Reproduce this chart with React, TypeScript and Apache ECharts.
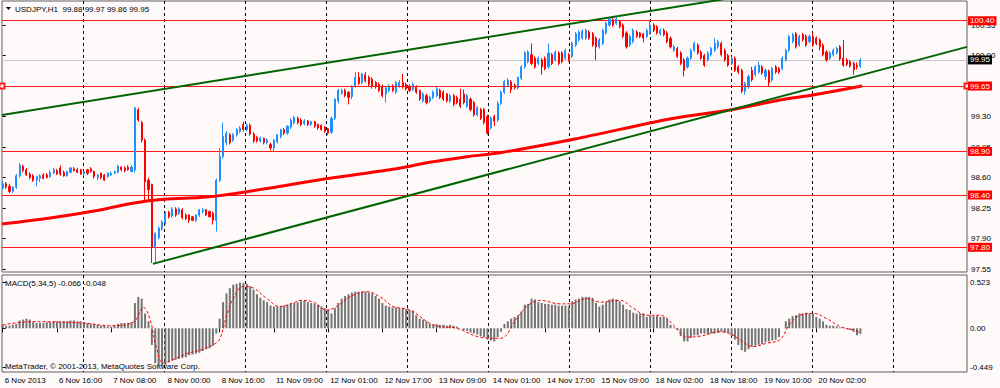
import { useEffect, useRef } from 'react';
import * as echarts from 'echarts';

const SYMBOL_TITLE = 'USDJPY,H1  99.88 99.97 99.86 99.95';
const MACD_TITLE = 'MACD(5,34,5) -0.066 -0.048';
const COPYRIGHT = 'MetaTrader, \u00A9 2001-2013, MetaQuotes Software Corp.';

const X_LABELS = [
  '6 Nov 2013', '6 Nov 16:00', '7 Nov 08:00', '8 Nov 00:00', '8 Nov 16:00',
  '11 Nov 09:00', '12 Nov 01:00', '12 Nov 17:00', '13 Nov 09:00', '14 Nov 01:00',
  '14 Nov 17:00', '15 Nov 09:00', '18 Nov 02:00', '18 Nov 18:00', '19 Nov 10:00', '20 Nov 02:00',
];
const X_LABEL_BARS = [0, 16, 32, 48, 64, 80, 96, 112, 128, 144, 160, 176, 192, 208, 224, 240];
const Y_TICKS = [97.55, 97.9, 98.25, 98.6, 98.95, 99.3, 99.65, 100.0, 100.35];
const MACD_TICKS = [0.523, 0, -0.449];
const LEVELS = [100.4, 98.9, 98.4, 97.8];
const SELECTED_LEVEL = 99.65;
const BID = 99.95;

// [open, close, low, high] per H1 bar
const CANDLES: number[][] = [
  [98.48,98.53,98.46,98.56],[98.53,98.49,98.47,98.55],[98.50,98.44,98.42,98.53],[98.44,98.49,98.42,98.50],
  [98.49,98.62,98.47,98.64],[98.62,98.74,98.60,98.77],[98.73,98.68,98.66,98.75],[98.69,98.63,98.62,98.71],
  [98.64,98.60,98.58,98.66],[98.62,98.57,98.55,98.64],[98.57,98.61,98.50,98.62],[98.59,98.62,98.55,98.64],
  [98.63,98.59,98.58,98.65],[98.63,98.60,98.59,98.65],[98.61,98.66,98.60,98.68],[98.65,98.69,98.64,98.71],
  [98.68,98.64,98.63,98.70],[98.71,98.64,98.62,98.74],[98.66,98.62,98.61,98.68],[98.62,98.67,98.61,98.68],
  [98.66,98.71,98.65,98.72],[98.70,98.68,98.67,98.72],[98.69,98.66,98.65,98.71],[98.69,98.64,98.63,98.70],
  [98.64,98.67,98.62,98.68],[98.69,98.65,98.63,98.70],[98.70,98.67,98.66,98.72],[98.67,98.61,98.59,98.68],
  [98.60,98.63,98.57,98.64],[98.65,98.60,98.58,98.66],[98.63,98.57,98.56,98.64],[98.61,98.65,98.60,98.66],
  [98.63,98.65,98.62,98.67],[98.65,98.67,98.64,98.68],[98.66,98.73,98.65,98.75],[98.72,98.69,98.67,98.73],
  [98.71,98.68,98.66,98.73],[98.72,98.69,98.68,98.74],[98.67,98.72,98.66,98.74],
  [98.69,99.40,98.66,99.41],[99.38,99.26,99.24,99.40],[99.23,99.03,99.00,99.25],[99.03,98.55,98.34,99.05],
  [98.57,98.46,98.34,98.60],[98.52,97.80,97.62,98.53],[97.80,97.96,97.62,97.97],[97.91,98.02,97.89,98.04],
  [98.01,98.09,97.99,98.11],[98.08,98.19,98.06,98.21],[98.20,98.15,98.13,98.22],[98.16,98.24,98.14,98.26],
  [98.24,98.17,98.15,98.26],[98.19,98.24,98.17,98.26],[98.23,98.14,98.12,98.25],[98.17,98.13,98.11,98.19],
  [98.17,98.11,98.08,98.18],[98.15,98.11,98.10,98.16],[98.11,98.17,98.09,98.18],[98.17,98.23,98.15,98.24],
  [98.21,98.23,98.19,98.25],[98.23,98.17,98.16,98.24],[98.21,98.15,98.14,98.22],[98.19,98.11,98.06,98.21],
  [98.11,98.57,97.98,98.59],[98.57,98.84,98.55,98.94],[98.84,99.07,98.82,99.23],[99.00,99.11,98.97,99.13],
  [99.09,99.00,98.98,99.11],[99.03,99.09,99.01,99.11],[99.09,99.15,99.07,99.17],[99.13,99.17,99.11,99.19],
  [99.21,99.15,99.13,99.24],[99.15,99.20,99.13,99.22],[99.20,99.10,99.08,99.22],[99.10,99.02,99.00,99.12],
  [99.06,99.02,99.00,99.08],[99.02,99.05,99.00,99.07],[99.05,99.00,98.98,99.06],[99.00,99.03,98.98,99.05],
  [98.98,98.94,98.91,99.00],[98.94,99.03,98.90,99.04],
  [99.01,99.09,98.99,99.10],[99.07,99.15,99.05,99.16],[99.15,99.11,99.09,99.17],[99.11,99.19,99.09,99.20],
  [99.18,99.26,99.16,99.28],[99.23,99.29,99.21,99.31],[99.28,99.23,99.21,99.30],[99.26,99.21,99.19,99.28],
  [99.22,99.25,99.20,99.27],[99.25,99.21,99.19,99.26],[99.21,99.24,99.19,99.25],[99.24,99.19,99.17,99.25],
  [99.21,99.17,99.15,99.22],[99.20,99.15,99.14,99.21],[99.18,99.13,99.11,99.19],[99.16,99.11,99.09,99.17],
  [99.12,99.28,99.10,99.30],[99.28,99.50,99.26,99.51],[99.48,99.60,99.45,99.62],[99.57,99.60,99.55,99.62],
  [99.60,99.54,99.52,99.62],[99.58,99.52,99.44,99.59],[99.53,99.65,99.50,99.66],[99.65,99.75,99.63,99.81],
  [99.75,99.68,99.66,99.81],[99.69,99.79,99.67,99.80],[99.78,99.71,99.69,99.81],[99.75,99.67,99.65,99.77],
  [99.73,99.65,99.62,99.75],[99.69,99.64,99.62,99.71],[99.67,99.60,99.58,99.69],[99.65,99.54,99.52,99.67],
  [99.56,99.63,99.46,99.65],[99.60,99.65,99.58,99.67],[99.65,99.60,99.58,99.67],[99.58,99.69,99.56,99.71],
  [99.65,99.69,99.63,99.72],[99.69,99.64,99.62,99.79],[99.67,99.62,99.60,99.69],[99.65,99.60,99.58,99.67],
  [99.61,99.67,99.59,99.69],[99.64,99.58,99.56,99.66],[99.60,99.50,99.48,99.61],[99.48,99.56,99.46,99.58],
  [99.54,99.46,99.44,99.56],[99.48,99.52,99.46,99.54],[99.52,99.58,99.50,99.60],[99.54,99.62,99.52,99.64],
  [99.60,99.52,99.50,99.62],[99.58,99.50,99.48,99.60],[99.56,99.48,99.46,99.57],[99.48,99.54,99.46,99.56],
  [99.54,99.44,99.42,99.56],[99.52,99.46,99.44,99.54],[99.50,99.42,99.40,99.62],[99.56,99.46,99.44,99.61],
  [99.42,99.54,99.40,99.56],[99.50,99.38,99.36,99.52],[99.46,99.32,99.30,99.48],[99.32,99.40,99.30,99.42],
  [99.38,99.28,99.26,99.40],[99.38,99.23,99.21,99.40],[99.30,99.11,99.09,99.32],[99.17,99.28,99.15,99.30],
  [99.30,99.25,99.19,99.32],
  [99.26,99.45,99.24,99.48],[99.45,99.58,99.43,99.60],[99.58,99.70,99.56,99.72],[99.66,99.72,99.64,99.74],
  [99.70,99.61,99.57,99.72],[99.66,99.63,99.61,99.68],[99.63,99.75,99.61,99.76],[99.74,99.87,99.72,99.89],
  [99.87,100.03,99.85,100.05],[99.93,100.04,99.91,100.06],[100.01,99.91,99.89,100.14],[99.97,99.87,99.85,99.99],
  [99.91,99.97,99.89,99.99],[99.95,99.87,99.78,99.97],[99.97,99.85,99.83,99.99],[99.87,100.03,99.85,100.14],
  [100.01,99.91,99.89,100.03],[99.95,100.04,99.93,100.06],[100.03,99.91,99.89,100.05],[100.03,99.93,99.91,100.05],
  [99.97,100.06,99.95,100.08],[100.01,99.95,99.93,100.03],[99.99,100.14,99.97,100.16],[100.12,100.25,100.10,100.27],
  [100.18,100.27,100.16,100.29],[100.20,100.28,100.18,100.30],[100.20,100.29,100.18,100.31],[100.27,100.20,100.18,100.29],
  [100.25,100.12,100.10,100.27],[100.20,100.10,99.95,100.22],[100.10,100.18,100.08,100.20],[100.14,100.29,100.12,100.31],
  [100.26,100.37,100.24,100.39],[100.35,100.42,100.33,100.44],[100.41,100.35,100.33,100.43],[100.37,100.42,100.35,100.44],
  [100.39,100.33,100.31,100.41],[100.35,100.22,100.20,100.37],[100.26,100.10,100.08,100.28],[100.12,100.22,100.10,100.24],
  [100.16,100.29,100.14,100.31],[100.27,100.22,100.20,100.29],[100.26,100.22,100.20,100.27],[100.25,100.20,100.15,100.26],
  [100.22,100.29,100.20,100.31],[100.26,100.35,100.24,100.41],[100.35,100.29,100.27,100.37],[100.33,100.26,100.24,100.35],
  [100.25,100.29,100.23,100.31],[100.29,100.24,100.22,100.31],[100.26,100.16,100.14,100.28],[100.20,100.10,100.08,100.22],
  [100.06,100.10,100.04,100.12],[100.08,99.99,99.97,100.10],[100.03,99.91,99.89,100.05],[99.95,99.83,99.76,99.97],
  [99.87,99.97,99.85,99.99],[99.97,100.06,99.95,100.08],[100.06,100.14,100.04,100.16],[100.12,100.03,100.01,100.14],
  [100.04,99.97,99.95,100.06],[100.00,99.89,99.87,100.02],[99.95,100.03,99.93,100.05],[100.01,100.08,99.99,100.10],
  [100.06,100.14,100.04,100.20],[100.10,100.16,100.08,100.18],[100.14,100.01,99.99,100.16],[100.06,99.95,99.93,100.08],
  [100.00,99.89,99.87,100.02],[99.91,99.97,99.89,99.99],[99.97,99.83,99.81,99.99],[99.87,99.81,99.79,99.89],
  [99.83,99.59,99.57,99.85],[99.59,99.68,99.55,99.70],[99.64,99.76,99.62,99.78],[99.83,99.72,99.70,99.87],
  [99.78,99.87,99.76,99.89],[99.81,99.89,99.79,99.93],[99.87,99.80,99.78,99.89],[99.76,99.83,99.72,99.85],
  [99.82,99.69,99.64,99.84],[99.72,99.85,99.70,99.87],[99.87,99.81,99.79,99.89],[99.85,99.81,99.79,99.87],
  [99.85,99.97,99.83,99.99],[99.95,100.06,99.93,100.08],[100.06,100.22,100.04,100.24],[100.16,100.24,100.14,100.26],
  [100.25,100.10,100.08,100.27],[100.12,100.22,100.10,100.24],[100.24,100.18,100.16,100.26],[100.22,100.12,100.10,100.24],
  [100.16,100.22,100.14,100.24],[100.22,100.12,100.10,100.26],[100.20,100.14,100.12,100.22],[100.18,100.10,100.06,100.20],
  [100.12,100.01,99.99,100.14],[100.04,99.95,99.93,100.06],[99.97,100.03,99.95,100.05],[100.01,100.06,99.99,100.08],
  [100.03,100.08,100.01,100.10],[100.10,99.96,99.94,100.12],[99.97,99.89,99.87,100.18],[99.95,99.90,99.88,99.97],
  [99.93,99.88,99.86,99.95],[99.91,99.84,99.78,99.93],[99.89,99.87,99.84,99.92],[99.88,99.95,99.86,99.97],
];

// MACD main (histogram), one per bar
const MACD_HIST = [
  0.04,0.03,0.03,0.04,0.05, 0.09,0.10,0.11,0.10,
  0.07,0.06,0.06,0.06,0.07,0.07,0.08,0.08,
  0.08,0.08,0.08,0.09,0.09,0.08,0.08,0.07,
  0.06,0.05,0.05,0.04,0.03,0.03,0.02,0.02,0.03,
  0.05,0.06,0.06,0.06,0.07,
  0.29,0.36,0.34,0.17,0.08,-0.19,
  -0.40,-0.449,-0.44,-0.42,-0.39,
  -0.37,-0.36,-0.35,-0.34,-0.33,-0.31,-0.30,-0.29,-0.28,-0.26,-0.24,-0.23,-0.20,
  -0.06,0.11,0.30,0.40,0.46,0.50,0.51,0.523,0.52,0.51,0.48,0.44,0.39,0.35,0.32,0.30,
  0.26,0.25,0.25,0.25,0.26,
  0.27,0.28,0.29,0.30,0.31,0.32,
  0.30,0.29,0.28,0.27,0.25,0.23,0.21,
  0.17,0.23,0.29,0.34,0.37,0.39,0.41,
  0.42,0.42,0.42,0.42,0.41,0.40,0.37,0.34,
  0.29,0.26,0.25,0.24,0.24,0.23,0.23,0.22,0.21,0.20,
  0.15,0.11,0.10,0.08,
  0.05,0.04,0.05,0.04,0.04,0.03,0.04,0.03,0.02,
  0.00,-0.02,-0.03,-0.05,-0.06,-0.07,
  -0.09,-0.10,-0.13,-0.14,-0.15,
  -0.10,-0.04,0.05,0.08,
  0.11,0.13,0.15,0.19,0.27,0.28,0.34,0.33,0.30,0.29,0.28,0.28,0.27,0.27,0.26,0.26,0.26,0.25,
  0.31,0.33,0.34,0.36,0.36,0.36,0.35,0.29,0.25,
  0.27,0.30,0.33,0.34,0.33,0.31,0.27,0.22,0.21,
  0.18,0.17,0.17,0.17,0.13,0.15,0.14,0.14,0.13,0.13,0.11,
  0.04,0.01,-0.02,-0.09,-0.15,-0.15,
  -0.11,-0.08,-0.08,-0.06,-0.06,-0.07,-0.06,-0.06,-0.05,-0.04,-0.05,-0.05,
  -0.09,-0.13,-0.19,-0.25,-0.27,-0.24,-0.21,-0.20,-0.19,-0.18,-0.16,-0.15,-0.14,-0.13,-0.10,
  0.00,0.08,0.11,0.14,0.15,0.17,0.17,0.18,0.17,0.17,0.13,0.11,0.08,0.04,
  0.03,0.03,0.02,0.01,0.01,-0.01,-0.02,-0.04,-0.08,-0.066,
];

// MACD signal line, [bar, value]
const MACD_SIGNAL: number[][] = [
  [0,0.04],[9,0.076],[23.8,0.06],[31.6,0.03],[38.5,0.07],[41.5,0.24],[43.4,0.11],[45.4,-0.23],
  [47.4,-0.40],[50.3,-0.36],[54.3,-0.29],[58.2,-0.25],[62.1,-0.19],[64.1,-0.115],[66.1,0.15],
  [68,0.34],[71,0.48],[74,0.46],[77.9,0.34],[81.8,0.25],[85.7,0.29],[87.7,0.32],[91.6,0.30],
  [95.6,0.21],[98.5,0.25],[102.4,0.36],[107.4,0.42],[111.3,0.36],[115.2,0.25],[120.1,0.21],
  [127,0.04],[133.9,0.0],[140.8,-0.10],[146.7,-0.115],[151.6,0.11],[154.6,0.25],[158.5,0.32],
  [164.4,0.28],[167.3,0.28],[172.3,0.34],[176.2,0.30],[182.1,0.32],[186,0.23],[190,0.15],
  [193.9,0.15],[197.8,0.04],[201.8,-0.10],[205.7,-0.09],[211.6,-0.04],[214.5,-0.06],[217.5,-0.13],
  [221.4,-0.21],[225.4,-0.17],[229.3,-0.13],[232.2,0.05],[235.2,0.15],[239.1,0.17],[243.1,0.11],
  [247,0.02],[250.9,-0.02],[253,-0.048],
];

// Moving average (thick red), [bar, price]
const MA_LINE: number[][] = [
  [-0.2,98.067],[14,98.136],[28.7,98.228],[38.4,98.305],[47.5,98.35],[58.2,98.37],[63.5,98.39],
  [78.9,98.48],[93.6,98.576],[115.1,98.695],[126.9,98.782],[137,98.84],[146.7,98.885],[168.8,99.043],
  [196.8,99.272],[214.5,99.375],[229.3,99.49],[239,99.547],[253.5,99.65],
];

const TREND_UPPER: number[][] = [[-0.2, 99.318], [215, 100.661]];
const TREND_LOWER: number[][] = [[44.3, 97.61], [284.45, 100.1]];

// layout
const X_MIN = -0.2065;
const X_MAX = 284.45;
const Y_MIN = 97.5165;
const Y_MAX = 100.626;
const M_MIN = -0.5006;
const M_MAX = 0.6105;
const FONT = 'Liberation Sans';
const BG = '#fffafa';

function buildOption() {
  const textBase = { fontFamily: FONT, fontSize: 8, color: '#000' };
  const pixelAxis = (gridIndex: number, position: string) => ({
    gridIndex, type: 'value', position, min: 0, max: 965, interval: 81,
    axisLine: { show: false }, axisTick: { show: false }, axisLabel: { show: false },
    splitLine: { show: true, showMinLine: false, showMaxLine: false, lineStyle: { color: '#000', type: [3, 3], width: 1 } },
  });
  const levelLabel = {
    show: true, position: 'end', distance: 1, fontFamily: FONT, fontSize: 8, color: '#fff',
    backgroundColor: '#ff0000', padding: [1, 2, 0, 2],
    formatter: (p: any) => Number(p.value).toFixed(2),
  };
  return {
    animation: false,
    backgroundColor: BG,
    textStyle: { fontFamily: FONT },
    grid: [
      { left: 2, top: 1, width: 965, height: 271, show: true, borderColor: '#5e5e5e', borderWidth: 1, backgroundColor: BG },
      { left: 2, top: 275, width: 965, height: 97, show: true, borderColor: '#5e5e5e', borderWidth: 1, backgroundColor: BG },
    ],
    xAxis: [
      { gridIndex: 0, type: 'value', position: 'bottom', min: X_MIN, max: X_MAX, show: false },
      {
        gridIndex: 1, type: 'value', position: 'bottom', min: X_MIN, max: X_MAX,
        axisLine: { show: false }, splitLine: { show: false },
        axisTick: { show: true, customValues: X_LABEL_BARS, length: 4, lineStyle: { color: '#000' } },
        axisLabel: {
          ...textBase, customValues: X_LABEL_BARS, align: 'left', margin: 4, padding: [0, 0, 0, 2],
          formatter: (v: number) => X_LABELS[X_LABEL_BARS.indexOf(Math.round(v))] ?? '',
        },
      },
      pixelAxis(0, 'top'),
      pixelAxis(1, 'top'),
    ],
    yAxis: [
      {
        gridIndex: 0, type: 'value', position: 'right', min: Y_MIN, max: Y_MAX,
        axisLine: { show: false }, splitLine: { show: false },
        axisTick: { show: true, customValues: Y_TICKS, length: 3, lineStyle: { color: '#000' } },
        axisLabel: { ...textBase, customValues: Y_TICKS, margin: 4, align: 'left', formatter: (v: number) => v.toFixed(2) },
      },
      {
        gridIndex: 1, type: 'value', position: 'right', min: M_MIN, max: M_MAX,
        axisLine: { show: false }, splitLine: { show: false },
        axisTick: { show: true, customValues: MACD_TICKS, length: 3, lineStyle: { color: '#000' } },
        axisLabel: { ...textBase, customValues: MACD_TICKS, margin: 3, align: 'left', formatter: (v: number) => (v === 0 ? '0.00' : String(v)) },
      },
    ],
    series: [
      {
        type: 'candlestick', xAxisIndex: 0, yAxisIndex: 0, z: 3,
        data: CANDLES.map((c, i) => [i, c[0], c[1], c[2], c[3]]),
        barWidth: 1.6,
        itemStyle: { color: '#1e90ff', color0: '#ff0000', borderColor: '#1e90ff', borderColor0: '#ff0000', borderWidth: 1 },
        markLine: {
          silent: true, symbol: 'none', animation: false, z: 2,
          lineStyle: { color: '#ff1a1a', width: 1, type: 'solid' },
          label: levelLabel,
          data: [
            ...LEVELS.map((v) => ({ yAxis: v })),
            { yAxis: BID, lineStyle: { color: '#c8c8c8' }, label: { backgroundColor: '#000' } },
          ],
        },
      },
      {
        type: 'line', xAxisIndex: 0, yAxisIndex: 0, z: 4, data: MA_LINE, symbol: 'none', smooth: 0.3,
        lineStyle: { color: '#ff0000', width: 3 },
      },
      {
        type: 'line', xAxisIndex: 0, yAxisIndex: 0, z: 5, data: TREND_UPPER, symbol: 'none',
        lineStyle: { color: '#006400', width: 2 },
      },
      {
        type: 'line', xAxisIndex: 0, yAxisIndex: 0, z: 5, data: TREND_LOWER, symbol: 'none',
        lineStyle: { color: '#006400', width: 2 },
        markLine: {
          silent: true, animation: false, symbol: ['emptyRect', 'emptyRect'], symbolSize: 5,
          lineStyle: { color: '#ff1a1a', width: 1, type: 'solid' },
          label: levelLabel,
          data: [{ yAxis: SELECTED_LEVEL }],
        },
      },
      {
        type: 'bar', xAxisIndex: 1, yAxisIndex: 1, z: 3,
        data: MACD_HIST.map((v, i) => [i, v]), barWidth: 2,
        itemStyle: { color: '#747474' },
      },
      {
        type: 'line', xAxisIndex: 1, yAxisIndex: 1, z: 4, data: MACD_SIGNAL, symbol: 'none', smooth: 0.4,
        lineStyle: { color: '#ff0000', width: 1, type: [3, 2] },
      },
    ],
    graphic: [
      { type: 'polygon', z: 1, shape: { points: [[6, 7], [11, 7], [8.5, 10]] }, style: { fill: '#000' } },
      { type: 'text', z: 1, x: 15, y: 9, style: { text: SYMBOL_TITLE, fontFamily: FONT, fontSize: 8, fill: '#000', verticalAlign: 'middle' } },
      { type: 'text', z: 1, x: 5, y: 283, style: { text: MACD_TITLE, fontFamily: FONT, fontSize: 8, fill: '#000', verticalAlign: 'middle' } },
      { type: 'text', z: 1, x: 5, y: 366, style: { text: COPYRIGHT, fontFamily: FONT, fontSize: 8, fill: '#000', verticalAlign: 'middle' } },
    ],
  };
}

export default function App() {
  const ref = useRef<HTMLDivElement>(null);
  useEffect(() => {
    if (!ref.current) return;
    const chart = echarts.init(ref.current, undefined, { renderer: 'svg', width: 1000, height: 388 });
    chart.setOption(buildOption() as any);
    return () => chart.dispose();
  }, []);
  return (
    <div
      ref={ref}
      style={{ position: 'fixed', left: 0, top: 0, width: 1000, height: 388, background: BG }}
    />
  );
}
